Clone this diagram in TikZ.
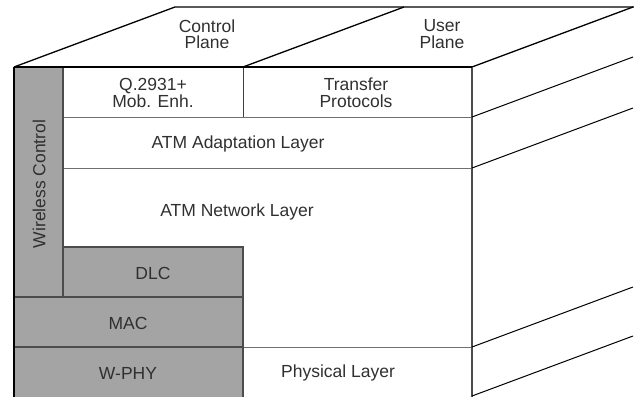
\documentclass[tikz,border=0pt]{standalone}
\usepackage{fontspec}
\setmainfont{Liberation Sans}
\usetikzlibrary{positioning}
\definecolor{layergray}{HTML}{A4A4A4}
\definecolor{txtgray}{HTML}{303030}
\definecolor{rulegray}{HTML}{707070}

\begin{document}
\begin{tikzpicture}[x=1pt, y=-1pt,
  lbl/.style={text=txtgray, font=\fontsize{17.5}{16.5}\selectfont, align=center, inner sep=0pt},
  edge3d/.style={black, line width=1.3pt},
  rule/.style={rulegray, line width=1pt},
  darkrule/.style={black!70, line width=1.2pt}]
\useasboundingbox (0,0) rectangle (634,396);
\clip (0,0) rectangle (634,396);

%% top face
\draw[edge3d] (14,67) -- (175,7) -- (640,7);
\draw[edge3d] (243,67) -- (404,7);
\draw[edge3d] (472,67) -- (633,7);

%% wireless part
\fill[layergray] (14,67) rectangle (63,297);
\fill[layergray] (63,247) rectangle (243,297);
\fill[layergray] (14,297) rectangle (243,400);

%% front face
\draw[rule] (63,117) -- (472,117);
\draw[rule] (63,168) -- (472,168);
\draw[rule] (243,347) -- (472,347);
\draw[darkrule] (14,347) -- (243,347);
\draw[darkrule] (14,297) -- (243,297);
\draw[darkrule] (63,67) -- (63,297);
\draw[darkrule] (63,247) -- (243,247) -- (243,400);
\draw[black!75, line width=1pt] (243,67) -- (243,117);
\draw[black!70, line width=1.2pt] (472,67) -- (472,400);
\draw[edge3d] (14,67) -- (472,67);
\draw[black, line width=1.5pt] (14,67) -- (14,400);

%% right face
\foreach \y in {117,168,347,396}
  \draw[black, line width=1pt] (472,\y) -- ++(161,-60);

%% labels
\node[lbl] (ctrlplane) at (207,34) {Control\\Plane};
\node[lbl] (userplane) at (442,34) {User\\Plane};
\node[lbl] (q2931) at (153,93) {Q.2931+\\Mob. Enh.};
\node[lbl] (transfer) at (356,93) {Transfer\\Protocols};
\node[lbl] (aal) at (238,144) {ATM Adaptation Layer};
\node[lbl] (atmnet) at (237,212) {ATM Network Layer};
\node[lbl] (dlc) at (153,273) {DLC};
\node[lbl] (mac) at (128,323) {MAC};
\node[lbl] (wphy) at (128,373) {W-PHY};
\node[lbl] (phys) at (338,373) {Physical Layer};
\node[lbl, rotate=90] (wctrl) at (39,184) {Wireless Control};

\end{tikzpicture}
\end{document}
